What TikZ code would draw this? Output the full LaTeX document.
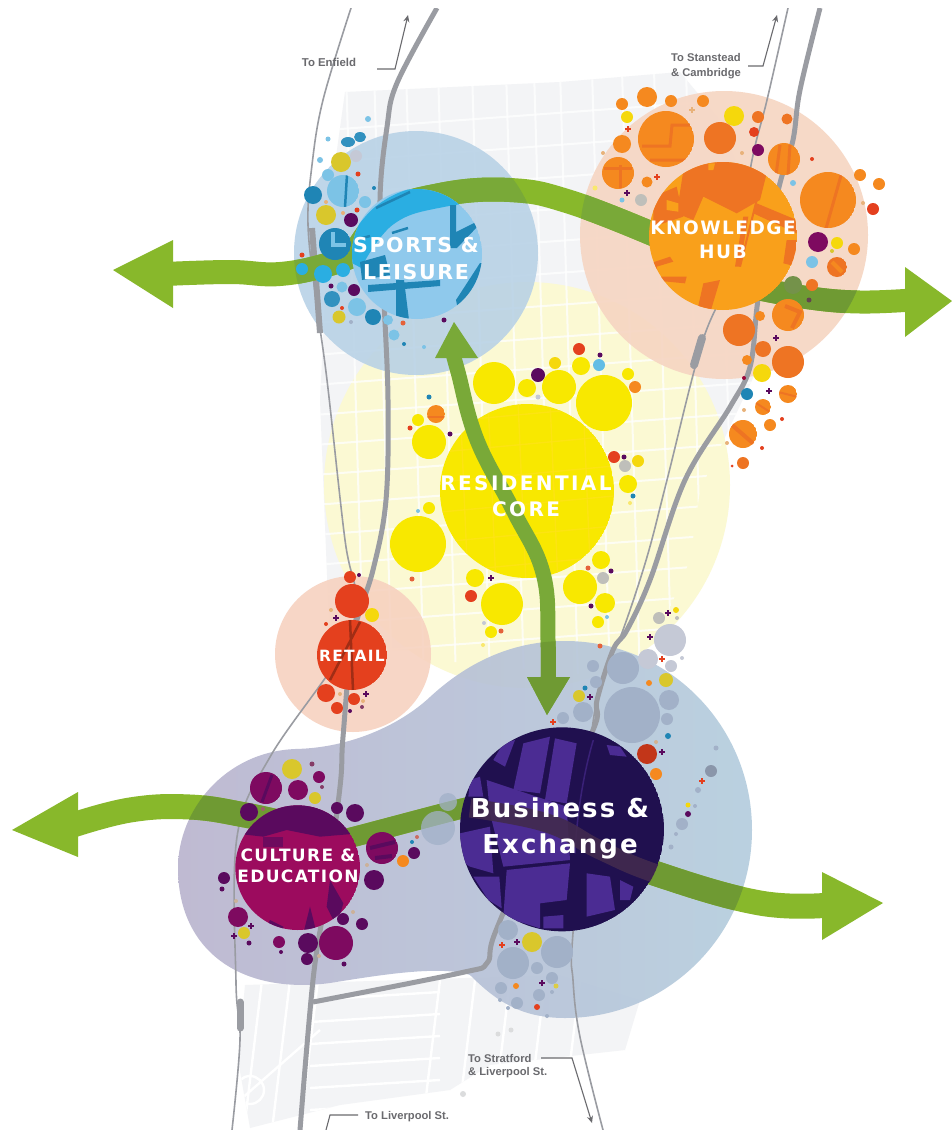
\documentclass[tikz,border=0pt]{standalone}
\usetikzlibrary{arrows.meta}
\usepackage{fontspec}
\setmainfont{Liberation Sans}
\newfontfamily\lbf[LetterSpace=8]{DejaVu Sans}
\newfontfamily\lbg[LetterSpace=12]{DejaVu Sans}
\definecolor{mapg}{HTML}{F3F4F6}
\definecolor{paleY}{HTML}{FBF9D3}
\definecolor{paleB}{HTML}{B7D1E6}
\definecolor{paleO}{HTML}{F6D5C2}
\definecolor{paleR}{HTML}{F7D2C0}
\definecolor{lilac}{HTML}{BAB5CF}
\definecolor{midb}{HTML}{ADBAD3}
\definecolor{rightb}{HTML}{B5CDDE}
\definecolor{roadc}{HTML}{9A9CA2}
\definecolor{lime}{HTML}{88B82B}
\definecolor{olive}{HTML}{6F9A33}
\definecolor{olv}{HTML}{79A938}
\definecolor{skyb}{HTML}{8FC9EC}
\definecolor{skyc}{HTML}{7CC3E6}
\definecolor{cyanb}{HTML}{2AAEE2}
\definecolor{tealb}{HTML}{1F85B5}
\definecolor{orng}{HTML}{F9A01B}
\definecolor{orn}{HTML}{F5891F}
\definecolor{ornd}{HTML}{EE7423}
\definecolor{yel}{HTML}{F8E800}
\definecolor{yeld}{HTML}{F5D80C}
\definecolor{gold}{HTML}{D9C72C}
\definecolor{redo}{HTML}{E4401E}
\definecolor{purd}{HTML}{5A0A5E}
\definecolor{pury}{HTML}{7E0A60}
\definecolor{mag}{HTML}{9C0B5E}
\definecolor{bizd}{HTML}{20104F}
\definecolor{bizl}{HTML}{4B2C93}
\definecolor{gb}{HTML}{A2B1C8}
\definecolor{gbl}{HTML}{C5C9D6}
\definecolor{gry}{HTML}{BFBFBA}
\definecolor{tan}{HTML}{E8B27A}
\definecolor{txtg}{HTML}{6A6A6E}
\newcommand\C[4]{\fill[#1] (#2,#3) circle[radius=#4];}
\newcommand\Pl[3]{\draw[#1,line width=1.3pt] (#2-3,#3)--(#2+3,#3) (#2,#3-3)--(#2,#3+3);}
\newcommand\Tx[7]{\begin{scope}\clip (#2,#3) circle[radius=#4];\fill[#1] (#2,#3) circle[radius=#4];\draw[#5,line width=#7pt] #6;\end{scope}}
\def\blobpath{(178,868) .. controls (178,810) and (225,752) .. (295,749) .. controls (350,748) and (400,725) .. (430,697) .. controls (470,660) and (515,641) .. (565,641) .. controls (668,641) and (752,725) .. (752,830) .. controls (752,934) and (668,1018) .. (565,1018) .. controls (520,1018) and (495,1000) .. (470,975) .. controls (440,965) and (380,975) .. (330,983) .. controls (240,995) and (178,950) .. (178,868) -- cycle}
\def\armL{plot[smooth,tension=.7] coordinates {(70,826)(130,810)(190,807)(245,815)(290,825)}}
\def\armM{plot[smooth,tension=.6] coordinates {(340,840)(357,836)(460,809)(480,806)}}
\def\armS{plot[smooth,tension=.7] coordinates {(165,274)(230,272)(280,274)(330,264)(365,250)}}
\def\armA{plot[smooth,tension=.7] coordinates {(350,262)(385,215)(440,195)(510,190)(570,202)(655,235)}}
\def\armK{plot[smooth,tension=.7] coordinates {(755,288)(810,298)(860,302)(912,300)}}
\def\armB{plot[smooth,tension=.7] coordinates {(470,808)(547,823)(600,850)(660,875)(760,903)(830,905)}}
\def\armV{plot[smooth,tension=.7] coordinates {(452,350)(458,372)(477,440)(513,510)(543,573)(548,640)(548,685)}}
\begin{document}
\begin{tikzpicture}[x=1pt,y=-1pt]
\useasboundingbox (0,0) rectangle (952,1130);
\fill[white] (0,0) rectangle (952,1130);
% base map
\fill[mapg] (345,92) -- (560,82) -- (680,72) -- (720,120) -- (790,300) -- (700,490) -- (640,650) -- (330,650) -- (320,400) -- (330,200) -- cycle;
\fill[mapg] (245,985) -- (560,975) -- (640,1000) -- (625,1050) -- (490,1065) -- (450,1090) -- (340,1105) -- (250,1128) -- (238,1060) -- cycle;
\fill[paleY] (527,485) circle[radius=203];
\begin{scope}
\clip (345,92) -- (560,82) -- (680,72) -- (720,120) -- (790,300) -- (700,490) -- (690,560) -- (640,680) -- (330,650) -- (320,400) -- (330,200) -- cycle;
\foreach \yy in {118,150,182,214,246,278,310,342,372,402,432,462,492,522,552,582,612,642}
  \draw[white,line width=2pt,opacity=.75] (300,\yy+14) -- (760,\yy-20);
\foreach \xx in {352,380,412,444,478,512,540,566,598,628,660,692,724}
  \draw[white,line width=2pt,opacity=.75] (\xx-6,70) -- (\xx+12,680);
\end{scope}
\begin{scope}
\clip (245,985) -- (560,975) -- (640,1000) -- (625,1050) -- (490,1065) -- (450,1090) -- (340,1105) -- (250,1128) -- (238,1060) -- cycle;
\foreach \yy in {1000,1022,1044,1066,1088,1110}
  \draw[white,line width=2.4pt] (310,\yy) -- (440,\yy-8);
\foreach \xx in {262,290,318,440,475,510,545,580}
  \draw[white,line width=2.4pt] (\xx,980) -- (\xx-18,1130);
\draw[white,line width=2.4pt] (240,1100) -- (320,1030) (250,1090) circle[radius=14];
\end{scope}
% pale zones
\fill[paleO,opacity=.9] (724,235) circle[radius=144];
\fill[paleB,opacity=.88] (416,253) circle[radius=122];
\fill[paleR,opacity=.9] (353,654) circle[radius=78];
\shade[left color=lilac,middle color=midb,right color=rightb,opacity=.92] \blobpath;
% roads
\begin{scope}
\clip (0,8) rectangle (952,1130);
\draw[roadc,line width=1.6pt] plot[smooth,tension=.6] coordinates {(351,8)(323,100)(312,165)(308,225)(316,300)(327,380)(345,540)(356,600)(340,655)(270,757)(237,837)(236,983)(240,1040)(232,1130)};
\draw[roadc,line width=6pt] plot[smooth,tension=.6] coordinates {(312,228)(316,280)(320,333)};
\draw[roadc,line width=7pt,line cap=round] (240,1002) -- (240,1028);
\draw[roadc,line width=5pt] plot[smooth,tension=.6] coordinates {(437,8)(397,83)(387,127)(380,200)(384,300)(388,400)(386,500)(373,570)(353,637)(343,737)(340,787)(325,900)(313,980)(300,1130)};
\draw[roadc,line width=1.6pt] plot[smooth,tension=.6] coordinates {(788,8)(767,100)(752,160)(733,267)(702,343)(667,480)(647,557)(623,630)(607,667)(592,730)(573,933)(573,980)(580,1037)(603,1130)};
\draw[roadc,line width=5pt] plot[smooth,tension=.6] coordinates {(820,8)(800,90)(793,140)(780,183)(765,250)(757,307)(750,367)(730,407)(685,480)(650,580)(627,630)(613,650)(597,700)(593,730)(540,830)(495,933)(487,963)(460,973)(313,1002)};
\draw[roadc,line width=8pt,line cap=round] (702,338) -- (694,365);
\end{scope}
% green arrows under the inner circles
\begin{scope}[line cap=butt]
\draw[lime,line width=25pt] \armL;
\draw[lime,line width=24pt] \armS;
\draw[lime,line width=24pt] \armA;
\draw[lime,line width=23pt] \armK;
\draw[lime,line width=20pt] \armM;
\draw[lime,line width=25pt] \armB;
\fill[lime] (12,830) -- (78,792) -- (78,857) -- cycle;
\fill[lime] (113,270) -- (173,240) -- (173,308) -- cycle;
\fill[lime] (952,301) -- (905,267) -- (905,337) -- cycle;
\fill[lime] (883,903) -- (822,872) -- (822,940) -- cycle;
\begin{scope}\clip \blobpath;
\draw[olive,line width=25pt] \armL;
\draw[olive,line width=20pt] \armM;
\draw[olive,line width=25pt] \armB;
\end{scope}
\begin{scope}\clip (416,253) circle[radius=122];
\draw[olv,line width=24pt] \armS;
\draw[olv,line width=24pt] \armA;
\end{scope}
\begin{scope}\clip (724,235) circle[radius=144];
\draw[olv,line width=24pt] \armA;
\draw[olive,line width=23pt] \armK;
\end{scope}
\end{scope}
% sports satellites
\C{skyc}{368}{119}{3}\C{skyc}{328}{139}{2.5}
\fill[tealb!80!skyc] (348,142) ellipse[x radius=7,y radius=5];
\fill[tealb!80!skyc] (360,137) ellipse[x radius=6,y radius=5];
\C{gold}{341}{162}{10}\C{gbl}{356}{156}{6}\C{skyc}{320}{160}{3}\C{skyc}{328}{175}{6}
\Tx{skyc}{343}{191}{16}{tealb}{(347,175)--(345,207)}{2.5}
\C{redo}{358}{174}{2.5}\C{tealb}{313}{195}{9}\C{tan}{326}{202}{2}\C{skyc}{365}{202}{6}\C{tealb}{374}{188}{2}
\C{gold}{326}{215}{10}\C{redo}{357}{210}{2.5}\C{tan}{343}{213}{2}\C{purd}{351}{220}{7}
\Tx{tealb}{335}{244}{16}{skyc}{(333,232)--(333,245)--(346,245)}{4}
\C{redo}{302}{255}{2.5}\C{cyanb}{302}{269}{6}\C{cyanb}{323}{274}{9}\C{cyanb}{343}{270}{7}
\C{purd}{331}{286}{2.5}\C{skyc}{342}{287}{5.5}\C{purd}{354}{290}{6}\C{tealb!80!skyc}{332}{299}{8}
\C{redo}{342}{308}{2}\C{skyc}{357}{307}{9}\C{gold}{339}{317}{6.5}\C{gb}{351}{322}{2}\C{tealb}{373}{317}{8}
\C{skyc}{388}{320}{5}\C{redo!70!tan}{403}{323}{2.5}\C{skyc}{394}{335}{5.5}\C{tealb}{404}{344}{2}\C{skyc}{424}{347}{2}\C{purd}{444}{320}{2.5}
% knowledge satellites
\C{orn}{647}{97}{10}\C{orn}{622}{104}{6}\C{orn}{671}{101}{6}\C{orn}{703}{101}{6}\C{yeld}{627}{117}{6}\Pl{tan}{692}{110}
\C{yeld}{734}{116}{10}\C{ornd}{758}{117}{6}\C{ornd}{787}{119}{5.5}\Pl{redo}{628}{129}
\Tx{orn}{666}{139}{28}{ornd}{(642,146)--(670,146)--(672,125)--(690,125) (650,160)--(690,160)}{3}
\C{ornd}{720}{138}{16}\C{redo}{754}{132}{5}\C{orn}{622}{144}{9}\C{pury}{758}{150}{6}\C{tan}{742}{153}{2}\C{tan}{603}{153}{2}
\Tx{orn}{784}{159}{16}{ornd}{(780,145)--(776,175) (790,145)--(788,175)}{3}
\C{redo}{812}{159}{2}
\Tx{orn}{618}{173}{16}{ornd}{(604,168)--(632,168) (620,165)--(620,188)}{3}
\C{orn}{647}{182}{5.5}\Pl{redo}{657}{177}\C{yeld!60!white}{595}{188}{2.5}\Pl{purd}{627}{193}\C{skyc}{622}{200}{2.5}\C{gry}{641}{200}{6}\C{skyc}{793}{183}{3}
\Tx{orn}{828}{200}{28}{ornd}{(842,172)--(825,232)}{3}
\C{orn}{860}{175}{6}\C{orn}{879}{184}{6}\C{redo}{873}{209}{6}\C{tan}{863}{203}{2}
\C{pury}{818}{242}{10}\C{yeld}{837}{243}{6}\C{orn}{854}{249}{6}\C{gold}{832}{251}{2}\C{skyc}{812}{262}{6}
\Tx{ornd}{837}{267}{10}{orn}{(832,262)--(842,272)}{4}
\C{ornd}{812}{285}{6}\C{olive!70!gray}{793}{285}{9}\C{purd!60!olive}{809}{300}{2.5}
\Tx{orn}{788}{315}{16}{ornd}{(785,306)--(800,312)--(792,328)}{4}
\C{orn}{760}{316}{5}
\C{ornd}{739}{330}{16}\Pl{purd}{776}{338}\C{ornd}{763}{349}{8}\C{ornd}{788}{362}{16}\C{orn}{747}{360}{5}\C{yeld}{762}{373}{9}\C{purd!60!red}{744}{378}{2}
\Pl{purd}{769}{391}\C{tealb}{747}{394}{6}
\Tx{orn}{788}{394}{9}{ornd}{(778,392)--(798,397)}{2}
\Tx{orn}{763}{407}{8}{ornd}{(756,403)--(770,412)}{2}
\C{tan}{744}{410}{2}\C{orn}{770}{425}{6}\C{redo}{782}{419}{2}
\Tx{orn}{743}{434}{14}{ornd}{(732,425)--(755,445)}{4}
\C{tan}{727}{443}{2}\C{redo}{762}{448}{2}\C{ornd}{743}{463}{6}\C{redo}{732}{466}{1.5}
% residential satellites
\C{redo}{579}{349}{6}\C{purd}{600}{355}{2.5}\C{yeld}{555}{363}{6}\C{yel}{581}{366}{9}\C{skyc!70!cyanb}{599}{365}{6}
\C{yel}{494}{383}{21}\C{purd}{538}{375}{7}\C{yel}{527}{388}{9}\C{yel}{559}{387}{17}\C{yel}{604}{403}{28}\C{yel}{628}{374}{6}\C{orn}{635}{387}{6}
\C{tealb}{429}{397}{2.5}\Tx{orn}{436}{414}{9}{ornd}{(426,417)--(446,417)}{1.5}\C{yel}{418}{420}{6}\C{yel}{429}{442}{17}\C{redo}{410}{428}{2.5}\C{purd}{450}{434}{2.5}\C{gbl}{538}{397}{2.5}
\C{redo}{614}{457}{6}\C{purd}{624}{457}{2.5}\C{yeld}{638}{461}{6}\C{gry}{625}{466}{6}\C{yel}{628}{484}{9}\C{tealb}{633}{496}{2.5}\C{yeld!60!white}{630}{503}{2}
\C{yel}{429}{508}{6}\C{skyc}{418}{511}{2}\C{yel}{418}{544}{28}\C{redo!70!tan}{412}{579}{2.5}
\C{yel}{475}{578}{9}\Pl{purd}{491}{578}\C{redo}{471}{596}{6}\C{yel}{502}{604}{21}\C{yel}{491}{632}{6}\C{redo!70!tan}{501}{631}{2.5}\C{gbl}{484}{623}{2}\C{yeld!60!white}{483}{645}{2}
\C{yel}{601}{560}{9}\C{redo!70!tan}{588}{568}{2.5}\C{purd}{611}{571}{2.5}\C{yel}{580}{587}{17}\C{gry}{603}{578}{6}\C{yel}{605}{603}{10}\C{purd}{591}{606}{2.5}\C{yel}{598}{622}{6}\C{skyc}{607}{617}{2}
% retail satellites
\C{redo}{350}{577}{6}\C{purd}{359}{575}{2}\C{redo}{352}{601}{17}\C{yeld}{372}{615}{7}\C{tan}{331}{610}{2}\Pl{purd}{336}{618}\C{redo}{326}{624}{2}
\C{redo}{326}{693}{9}\C{redo}{354}{699}{6}\C{tan}{340}{694}{2}\Pl{purd}{366}{694}\C{redo}{337}{708}{6}\C{purd!70!tan}{362}{707}{2}\C{purd}{350}{711}{2}\C{tan}{363}{701}{2}
% culture satellites
\Tx{pury}{266}{788}{16}{purd}{(272,775)--(262,802)}{3}
\C{pury}{298}{790}{10}\C{gold}{292}{769}{10}\C{purd!70!tan}{312}{764}{2.5}\C{pury}{319}{777}{6}\C{purd!70!tan}{322}{787}{2}\C{gold}{315}{798}{6}\C{purd}{249}{812}{9}\C{tan!50!purd}{263}{809}{2}\C{purd}{337}{808}{6}\C{purd}{355}{813}{9}
\Tx{pury}{382}{848}{16}{purd}{(370,848)--(395,842) (375,858)--(392,856)}{4}
\C{purd}{414}{853}{6}\C{redo!60!gb}{417}{837}{2}\C{tealb}{412}{842}{2}\C{orn}{403}{861}{6}\C{purd}{374}{880}{10}\C{tan!60!gb}{367}{865}{2}
\C{purd}{224}{878}{6}\C{purd}{222}{889}{2.5}\C{pury}{238}{917}{10}\C{tan!60!gb}{236}{901}{2}\Pl{purd}{251}{926}\C{gold}{244}{933}{6}\Pl{purd}{234}{936}\C{purd}{249}{943}{2.5}
\C{pury}{279}{942}{6}\C{purd}{281}{952}{2}\C{purd}{308}{943}{10}\C{pury}{336}{943}{17}\C{purd}{307}{959}{6}\C{purd}{343}{919}{6}\C{purd}{362}{924}{6}\C{tan!60!gb}{353}{912}{2}\C{purd}{344}{964}{2.5}\C{tan!60!gb}{319}{956}{2}
\fill[gb,opacity=.75] (438,828) circle[radius=17];
\fill[gb,opacity=.75] (448,802) circle[radius=9];
% business satellites
\Pl{purd}{668}{613}\C{yeld}{676}{610}{3}\C{gry}{659}{618}{6}\C{gry}{677}{618}{2}\C{gbl}{670}{640}{16}\Pl{purd}{650}{637}\Pl{redo}{662}{659}\C{gbl}{682}{658}{2}\C{redo!70!tan}{600}{646}{2.5}\C{gbl}{648}{659}{10}\C{gbl}{671}{666}{6}\C{gb}{623}{668}{16}\C{gb}{593}{666}{6}\C{gb}{596}{682}{6}\C{tealb}{585}{688}{2.5}\C{gold}{579}{696}{6}\Pl{purd}{590}{697}\C{orn}{649}{683}{3}\C{gold}{666}{680}{7}\C{gb}{669}{700}{10}\C{gb}{632}{715}{28}\C{gb}{583}{712}{10}\C{gb}{563}{718}{6}\Pl{redo}{553}{722}\C{gb}{667}{719}{6}\C{tealb}{668}{736}{3}\C{tan!70!gb}{656}{742}{2}\C{redo!85!black}{647}{754}{10}\Pl{purd}{662}{752}\C{orn}{656}{774}{6}
\C{gb}{716}{748}{2.5}\C{gb!85!black}{711}{771}{6}\Pl{redo}{702}{781}\C{gb}{698}{790}{3}\C{yeld}{688}{805}{2.5}\C{gb}{695}{806}{2}\C{purd}{688}{814}{3}\C{gb}{682}{824}{6}\C{gb}{676}{834}{2}\C{gb}{671}{847}{2.5}
\C{gb}{508}{930}{10}\C{gold}{532}{942}{10}\C{gb}{557}{952}{16}\Pl{purd}{517}{942}\Pl{redo}{502}{945}\C{gb}{513}{963}{16}\C{gb}{537}{968}{6}\C{gb}{552}{978}{6}\Pl{purd}{542}{983}\C{yeld!70!gb}{556}{986}{2.5}\C{gb}{501}{988}{6}\C{orn}{516}{986}{3}\C{gb}{539}{995}{6}\C{gb}{552}{992}{2}\C{gb}{517}{1003}{6}\C{redo}{537}{1007}{3}\C{gb}{508}{1008}{2}\C{gb}{500}{1000}{2}\C{gb}{547}{1016}{2}
\C{mapg!90!black}{498}{1034}{2.5}\C{mapg!90!black}{511}{1030}{2.5}\C{mapg!90!black}{463}{1094}{3}
% inner circles
\begin{scope}
\clip (417,254) circle[radius=65];
\fill[skyb] (417,254) circle[radius=65];
\draw[cyanb,line width=25pt] \armA;
\fill[tealb] (450,205) -- (456,205) -- (456,232) -- (476,222) -- (478,226) -- (457,248) -- (450,248) -- cycle;
\fill[tealb] (456,300) -- (480,263) -- (490,263) -- (490,320) -- (460,320) -- cycle;
\fill[tealb] (396,280) -- (404,280) -- (409,320) -- (396,320) -- cycle;
\fill[tealb] (368,285) -- (440,280) -- (440,286) -- (368,292) -- cycle;
\draw[tealb,line width=2.5pt] (376,208) -- (410,192) (392,233) -- (408,228) (355,240) -- (370,236);
\fill[tealb] (360,262) -- (385,255) -- (390,275) -- (362,280) -- cycle;
\end{scope}
\begin{scope}[shift={(570,0)},scale=1/3]
\clip (459,708) circle[radius=222];
\fill[orng] (459,708) circle[radius=222];
\fill[ornd] (345,480) -- (600,480) -- (570,600) -- (500,640) -- (400,590) -- (370,660) -- (320,640) -- cycle;
\fill[orng] (415,490) -- (435,490) -- (430,510) -- (415,510) -- cycle;
\fill[ornd] (250,590) -- (320,560) -- (340,650) -- (250,680) -- cycle;
\fill[orng] (290,600) -- (325,610) -- (325,635) -- (290,630) -- cycle;
\fill[ornd] (560,610) -- (680,660) -- (680,700) -- (550,640) -- cycle;
\fill[ornd] (520,650) -- (535,650) -- (510,800) -- (495,800) -- cycle;
\fill[ornd] (650,720) -- (680,720) -- (680,800) -- (640,790) -- cycle;
\fill[ornd] (400,850) -- (450,840) -- (420,940) -- (380,940) -- cycle;
\fill[ornd] (240,790) -- (300,770) -- (310,785) -- (260,800) -- (265,830) -- (350,830) -- (345,850) -- (240,840) -- cycle;
\draw[ornd,line width=2pt] (590,480) -- (510,800);
\end{scope}
\begin{scope}
\clip (527,491) circle[radius=87];
\fill[yel] (527,491) circle[radius=87];
\foreach \yy in {415,445,475,505,535,565}
  \draw[yellow!90!white!85!orange,line width=1.4pt,opacity=.8] (430,\yy+8) -- (625,\yy-10);
\foreach \xx in {462,490,520,552,585}
  \draw[yellow!90!white!85!orange,line width=1.4pt,opacity=.8] (\xx-2,400) -- (\xx+6,585);
\end{scope}
\Tx{redo}{352}{655}{35}{redo!70!black}{(360,622)--(330,680) (350,620)--(353,690)}{2.5}
\begin{scope}[shift={(170,570)},scale=1/3]
\clip (383,893) circle[radius=187];
\fill[mag] (383,893) circle[radius=187];
\fill[purd] (190,790) -- (280,800) -- (350,780) -- (450,800) -- (570,790) -- (560,700) -- (190,700) -- cycle;
\fill[purd!70!mag] (280,800) -- (340,800) -- (340,830) -- (280,830) -- cycle;
\fill[purd] (400,1090) -- (420,1010) -- (440,1090) -- cycle;
\fill[purd] (480,930) -- (520,1000) -- (500,1070) -- (470,1010) -- cycle;
\fill[purd] (300,1050) -- (340,1070) -- (340,1090) -- (280,1090) -- cycle;
\end{scope}
\begin{scope}[shift={(460,600)},scale=1/3]
\clip (306,688) circle[radius=306];
\fill[bizd] (306,688) circle[radius=306];
\fill[bizl] (190,430) -- (270,410) -- (240,580) -- (160,570) -- cycle;
\fill[bizl] (285,415) -- (350,430) -- (320,610) -- (255,600) -- cycle;
\fill[bizl] (440,435) -- (480,440) -- (500,470) -- (450,465) -- cycle;
\fill[bizl] (130,430) -- (165,420) -- (135,500) -- (100,480) -- cycle;
\fill[bizl] (30,540) -- (60,530) -- (70,590) -- (25,590) -- cycle;
\fill[bizl] (80,540) -- (230,590) -- (320,620) -- (330,780) -- (130,800) -- (90,640) -- cycle;
\fill[bizl] (0,700) -- (90,680) -- (100,820) -- (30,800) -- (0,780) -- cycle;
\fill[bizl] (140,810) -- (330,790) -- (320,900) -- (240,910) -- (240,985) -- (130,950) -- cycle;
\fill[bizl] (40,830) -- (118,830) -- (125,925) -- (85,900) -- cycle;
\fill[bizl] (250,950) -- (310,945) -- (310,985) -- (250,985) -- cycle;
\fill[bizl] (380,820) -- (450,830) -- (465,930) -- (380,950) -- cycle;
\fill[bizl] (480,840) -- (520,860) -- (510,900) -- (480,900) -- cycle;
\draw[bizl!60!bizd,line width=1.5pt] (400,420) .. controls (370,520) and (350,650) .. (345,760);
\end{scope}
\begin{scope}
\clip (562,830) circle[radius=102];
\draw[purd!40!bizd!80!olive,line width=19pt,opacity=.9] \armB;
\end{scope}
% north-south arrow, over the residential circle
\draw[olv,line width=15pt] \armV;
\fill[olv] (454,322) -- (478,358) -- (435,358) -- cycle;
\fill[olv] (547,715) -- (527,677) -- (570,677) -- cycle;
\begin{scope}\clip \blobpath;
\draw[olive,line width=15pt] \armV;
\fill[olive] (547,715) -- (527,677) -- (570,677) -- cycle;
\end{scope}
% labels
\node (lsports) at (416,259) [text=white,align=center,font={\fontsize{20.5}{27}\lbf\bfseries}] {SPORTS \&\\LEISURE};
\node (lknow) at (723,240) [text=white,align=center,font={\fontsize{18.5}{24}\lbf\bfseries}] {KNOWLEDGE\\HUB};
\node (lres) at (526,496) [text=white,align=center,font={\fontsize{20}{26}\lbg\bfseries}] {RESIDENTIAL\\CORE};
\node (lret) at (352,656) [text=white,font={\fontsize{15.5}{18}\lbf\bfseries}] {RETAIL};
\node (lcul) at (298,866) [text=white,align=center,font={\fontsize{17}{21}\lbf\bfseries}] {CULTURE \&\\EDUCATION};
\node (lbiz) at (560,828) [text=white,align=center,font={\fontsize{26}{36}\lbf\bfseries}] {Business \&\\Exchange};
% annotations
\node (tenf) at (329,62) [text=txtg,font={\fontsize{11.4}{13}\selectfont\bfseries}] {To Enfield};
\node (tsta) at (671,66) [anchor=west,inner sep=0pt,text=txtg,align=left,font={\fontsize{11.2}{15}\selectfont\bfseries}] {To Stanstead\\\& Cambridge};
\node (tstr) at (468,1066) [anchor=west,inner sep=0pt,text=txtg,align=left,font={\fontsize{11.2}{13.5}\selectfont\bfseries}] {To Stratford\\\& Liverpool St.};
\node (tliv) at (365,1117) [anchor=west,inner sep=0pt,text=txtg,font={\fontsize{11.2}{13}\selectfont\bfseries}] {To Liverpool St.};
\coordinate (e1) at (377,69); \coordinate (e2) at (395,69); \coordinate (e3) at (408,15);
\coordinate (s1) at (748,66); \coordinate (s2) at (763,66); \coordinate (s3) at (777,15);
\coordinate (r1) at (541,1058); \coordinate (r2) at (572,1058); \coordinate (r3) at (592,1123);
\coordinate (l1) at (358,1115); \coordinate (l2) at (330,1115); \coordinate (l3) at (326,1130);
\draw[txtg,line width=1.1pt,-{Stealth[length=7pt,width=6pt]}] (e1) -- (e2) -- (e3);
\draw[txtg,line width=1.1pt,-{Stealth[length=7pt,width=6pt]}] (s1) -- (s2) -- (s3);
\draw[txtg,line width=1.1pt,-{Stealth[length=7pt,width=6pt]}] (r1) -- (r2) -- (r3);
\draw[txtg,line width=1.1pt] (l1) -- (l2) -- (l3);
\end{tikzpicture}
\end{document}
